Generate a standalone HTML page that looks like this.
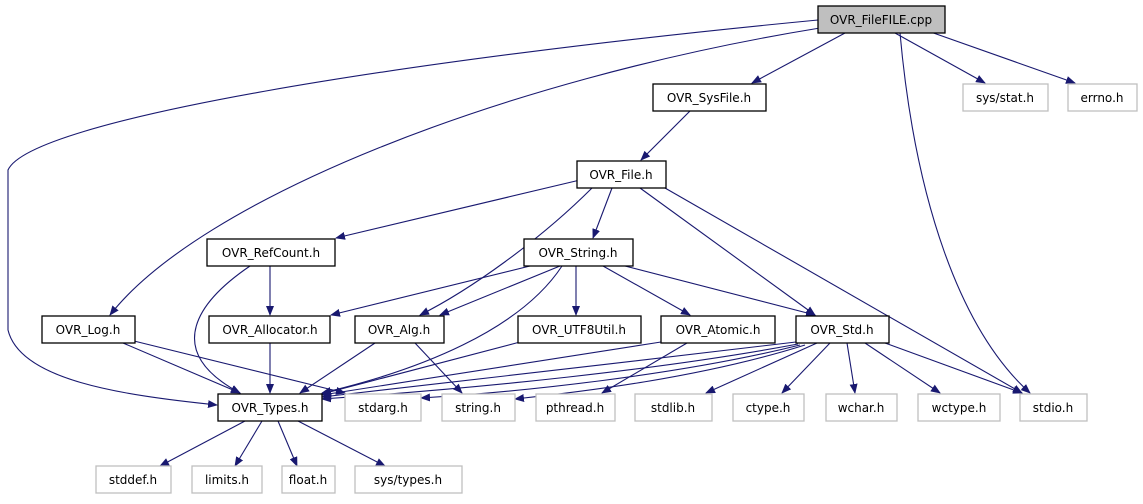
<!DOCTYPE html>
<html><head><meta charset="utf-8"><style>
html,body{margin:0;padding:0;background:#fff;}
svg{display:block;}
text{font-family:"DejaVu Sans","Liberation Sans",sans-serif;font-size:12px;text-anchor:middle;fill:#000;}
.n{fill:#fff;stroke:#000;stroke-width:1.3;}
.g{fill:#fff;stroke:#bfbfbf;stroke-width:1.3;}
.e{fill:none;stroke:#191970;stroke-width:1.1;marker-end:url(#a);}
</style></head><body>
<svg width="1143" height="504" viewBox="0 0 1143 504" xmlns="http://www.w3.org/2000/svg">
<defs><marker id="a" markerWidth="10" markerHeight="8" refX="9" refY="4" orient="auto" markerUnits="userSpaceOnUse"><path d="M0,0 L10,4 L0,8 z" fill="#191970"/></marker></defs>
<!-- edges -->
<path class="e" d="M845 33 L752 83"/>
<path class="e" d="M895 33 L985 83"/>
<path class="e" d="M925 30 L1075 83"/>
<path class="e" d="M900 33 C915 200 960 330 1030 393"/>
<path class="e" d="M820 28 C500 80 200 200 110 315"/>
<path class="e" d="M818 20 C400 60 30 120 8 170 L8 330 C20 380 120 395 217 405"/>
<path class="e" d="M690 111 L641 160"/>
<path class="e" d="M580 180 L336 238"/>
<path class="e" d="M612 188 L593 238"/>
<path class="e" d="M592 188 C540 240 470 290 420 315"/>
<path class="e" d="M640 188 L815 315"/>
<path class="e" d="M665 188 L1022 393"/>
<path class="e" d="M270 266 L270 315"/>
<path class="e" d="M250 266 C200 300 160 350 240 393"/>
<path class="e" d="M530 266 L331 315"/>
<path class="e" d="M560 266 L440 315"/>
<path class="e" d="M562 266 C520 330 420 370 322 393"/>
<path class="e" d="M576 266 L576 315"/>
<path class="e" d="M603 266 L690 315"/>
<path class="e" d="M625 266 L815 315"/>
<path class="e" d="M123 343 L240 393"/>
<path class="e" d="M134 341 L345 393"/>
<path class="e" d="M270 343 L270 393"/>
<path class="e" d="M375 343 L300 393"/>
<path class="e" d="M415 343 L462 393"/>
<path class="e" d="M520 342 L322 394"/>
<path class="e" d="M661 342 L322 395"/>
<path class="e" d="M687 343 L602 393"/>
<path class="e" d="M796 342 C650 360 420 385 322 397"/>
<path class="e" d="M798 344 C660 370 480 388 322 399"/>
<path class="e" d="M800 345 C680 375 520 392 421 398"/>
<path class="e" d="M805 345 C700 378 580 392 515 399"/>
<path class="e" d="M817 343 L706 393"/>
<path class="e" d="M830 343 L782 393"/>
<path class="e" d="M847 343 L855 393"/>
<path class="e" d="M865 343 L940 393"/>
<path class="e" d="M885 343 L1022 393"/>
<path class="e" d="M245 421 L160 466"/>
<path class="e" d="M262 421 L235 466"/>
<path class="e" d="M278 421 L297 466"/>
<path class="e" d="M298 421 L385 466"/>
<!-- nodes -->
<rect x="818" y="6" width="127" height="27" fill="#bfbfbf" stroke="#000" stroke-width="1.3"/><text x="881" y="24">OVR_FileFILE.cpp</text>
<rect class="n" x="653" y="84" width="113" height="27"/><text x="709" y="102">OVR_SysFile.h</text>
<rect class="g" x="963" y="84" width="85" height="27"/><text x="1005" y="102">sys/stat.h</text>
<rect class="g" x="1068" y="84" width="69" height="27"/><text x="1102" y="102">errno.h</text>
<rect class="n" x="577" y="161" width="89" height="27"/><text x="621" y="179">OVR_File.h</text>
<rect class="n" x="207" y="239" width="128" height="27"/><text x="271" y="257">OVR_RefCount.h</text>
<rect class="n" x="524" y="239" width="109" height="27"/><text x="578" y="257">OVR_String.h</text>
<rect class="n" x="42" y="316" width="93" height="27"/><text x="88" y="334">OVR_Log.h</text>
<rect class="n" x="209" y="316" width="121" height="27"/><text x="270" y="334">OVR_Allocator.h</text>
<rect class="n" x="355" y="316" width="89" height="27"/><text x="399" y="334">OVR_Alg.h</text>
<rect class="n" x="518" y="316" width="123" height="27"/><text x="579" y="334">OVR_UTF8Util.h</text>
<rect class="n" x="661" y="316" width="114" height="27"/><text x="718" y="334">OVR_Atomic.h</text>
<rect class="n" x="796" y="316" width="93" height="27"/><text x="842" y="334">OVR_Std.h</text>
<rect class="n" x="218" y="394" width="104" height="27"/><text x="270" y="412">OVR_Types.h</text>
<rect class="g" x="345" y="394" width="76" height="27"/><text x="383" y="412">stdarg.h</text>
<rect class="g" x="442" y="394" width="73" height="27"/><text x="478" y="412">string.h</text>
<rect class="g" x="536" y="394" width="79" height="27"/><text x="575" y="412">pthread.h</text>
<rect class="g" x="635" y="394" width="77" height="27"/><text x="673" y="412">stdlib.h</text>
<rect class="g" x="733" y="394" width="71" height="27"/><text x="768" y="412">ctype.h</text>
<rect class="g" x="826" y="394" width="71" height="27"/><text x="861" y="412">wchar.h</text>
<rect class="g" x="918" y="394" width="82" height="27"/><text x="959" y="412">wctype.h</text>
<rect class="g" x="1020" y="394" width="67" height="27"/><text x="1053" y="412">stdio.h</text>
<rect class="g" x="96" y="466" width="75" height="27"/><text x="133" y="484">stddef.h</text>
<rect class="g" x="192" y="466" width="70" height="27"/><text x="227" y="484">limits.h</text>
<rect class="g" x="282" y="466" width="53" height="27"/><text x="308" y="484">float.h</text>
<rect class="g" x="355" y="466" width="107" height="27"/><text x="408" y="484">sys/types.h</text>
</svg>
</body></html>
